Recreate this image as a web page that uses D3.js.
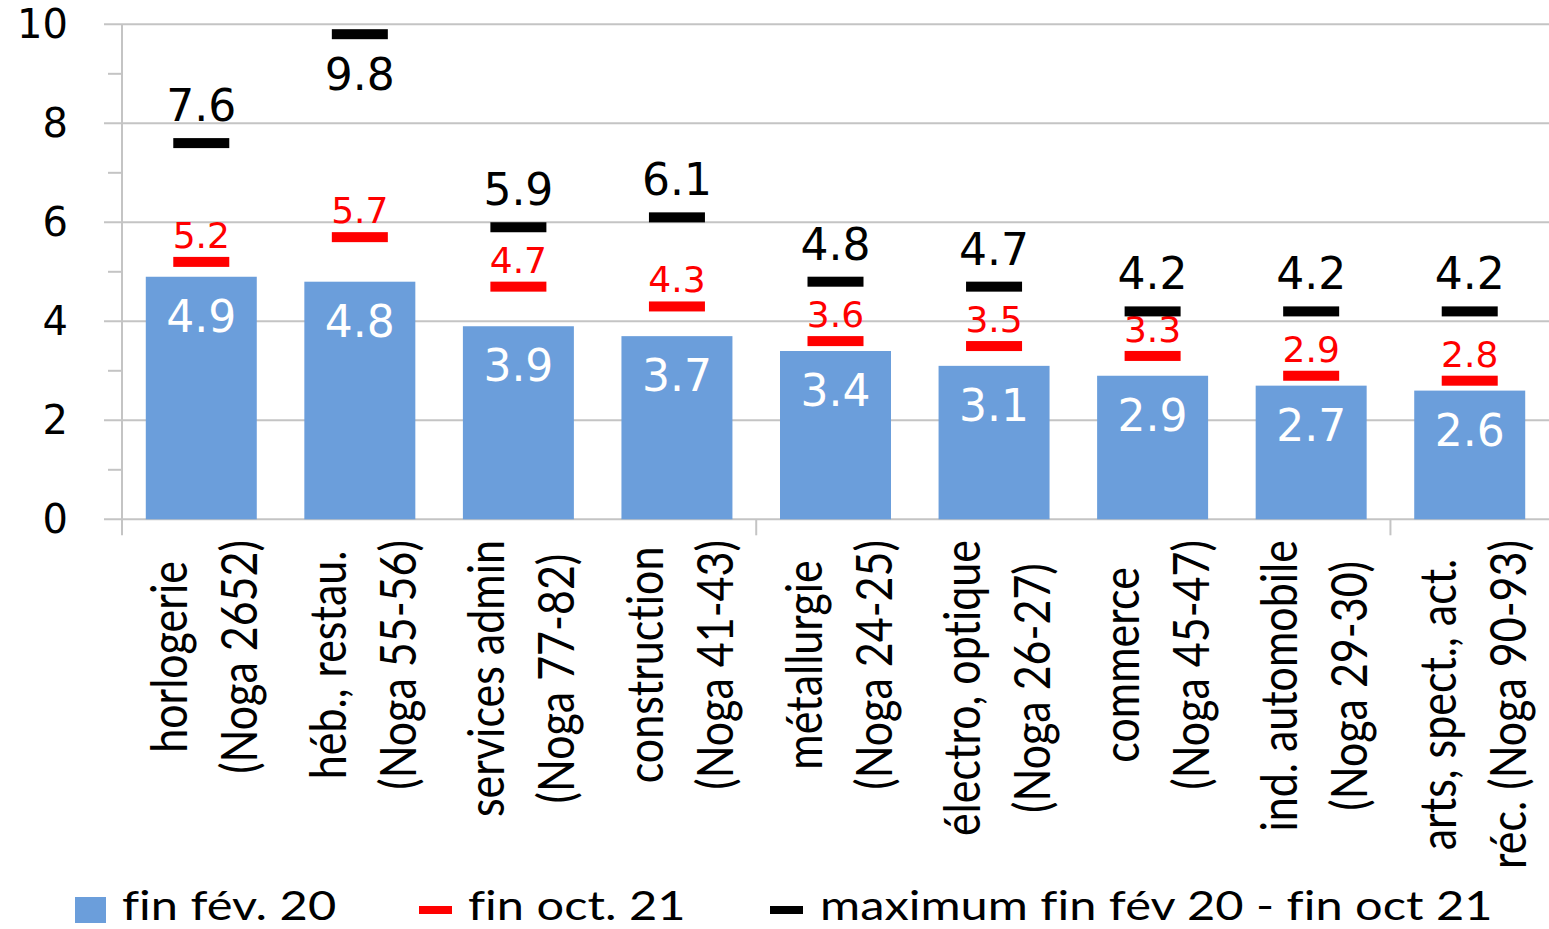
<!DOCTYPE html>
<html>
<head>
<meta charset="utf-8">
<script src="https://cdn.jsdelivr.net/npm/d3@7"></script>
<style>
  body { margin: 0; background: #fff; }
  svg { display: block; }
  text { font-variant-ligatures: none; }
</style>
</head>
<body>
<svg id="chart" width="1549" height="929"></svg>
<script>
// categories (2 lines each, rotated under the axis)
const categories = [
    ["horlogerie", "(Noga 2652)"],
    ["héb., restau.", "(Noga 55-56)"],
    ["services admin", "(Noga 77-82)"],
    ["construction", "(Noga 41-43)"],
    ["métallurgie", "(Noga 24-25)"],
    ["électro, optique", "(Noga 26-27)"],
    ["commerce", "(Noga 45-47)"],
    ["ind. automobile", "(Noga 29-30)"],
    ["arts, spect., act.", "réc. (Noga 90-93)"]
]
const finFev20 = [4.9, 4.8, 3.9, 3.7, 3.4, 3.1, 2.9, 2.7, 2.6]
const finOct21 = [5.2, 5.7, 4.7, 4.3, 3.6, 3.5, 3.3, 2.9, 2.8]
const maxPeriod = [7.6, 9.8, 5.9, 6.1, 4.8, 4.7, 4.2, 4.2, 4.2]
const yTicks = [0, 2, 4, 6, 8, 10]
const yMinor = [1, 3, 5, 7, 9]
const legendLabels = ["fin fév. 20", "fin oct. 21", "maximum fin fév 20 - fin oct 21"]

const numFont = "'DejaVu Sans', Verdana, sans-serif"
const txtFont = "Lato, 'Open Sans', sans-serif"
const blue = "#6b9edb", grid = "#c4c4c4"

const svg = d3.select("#chart")
const left = 122, right = 1549

const data = categories.map((c, i) => ({
    idx: i, lines: c, feb: finFev20[i], oct: finOct21[i], max: maxPeriod[i]
}))

const x = d3.scaleBand()
    .domain(d3.range(categories.length))
    .range([left, right])
    .paddingInner(0.3)
    .paddingOuter(0.15)
const step = x.step()
const cx = i => x(i) + x.bandwidth() / 2

const y = d3.scaleLinear().domain([0, 10]).range([519.3, 24.3])

// gridlines + major ticks
svg.append("g").selectAll("line")
    .data(yTicks)
    .enter().append("line")
        .attr("x1", 104).attr("x2", right)
        .attr("y1", d => y(d)).attr("y2", d => y(d))
        .style("stroke", grid).style("stroke-width", 2)

// minor ticks
svg.append("g").selectAll("line")
    .data(yMinor)
    .enter().append("line")
        .attr("x1", 108).attr("x2", left)
        .attr("y1", d => y(d)).attr("y2", d => y(d))
        .style("stroke", grid).style("stroke-width", 2)

// vertical axis line
svg.append("line")
    .attr("x1", left).attr("x2", left)
    .attr("y1", y(10)).attr("y2", y(0) + 16)
    .style("stroke", grid).style("stroke-width", 2)

// category tick marks (every 4th boundary)
svg.append("g").selectAll("line")
    .data([4, 8])
    .enter().append("line")
        .attr("x1", d => left + d * step).attr("x2", d => left + d * step)
        .attr("y1", y(0)).attr("y2", y(0) + 16)
        .style("stroke", grid).style("stroke-width", 2)

// y tick labels
svg.append("g").selectAll("text")
    .data(yTicks)
    .enter().append("text")
        .attr("x", 68)
        .attr("y", d => y(d) + 14)
        .attr("text-anchor", "end")
        .style("font-family", numFont)
        .style("font-size", "40px")
        .style("fill", "#000")
        .text(d => d)

// bars
svg.append("g").selectAll("rect")
    .data(data)
    .enter().append("rect")
        .attr("x", d => x(d.idx))
        .attr("y", d => y(d.feb))
        .attr("width", x.bandwidth())
        .attr("height", d => y(0) - y(d.feb))
        .style("fill", blue)

// bar labels
svg.append("g").selectAll("text")
    .data(data)
    .enter().append("text")
        .attr("x", d => cx(d.idx))
        .attr("y", d => y(d.feb) + 55)
        .attr("text-anchor", "middle")
        .style("font-family", numFont)
        .style("font-size", "44px")
        .style("fill", "#fff")
        .text(d => d.feb.toFixed(1))

const markW = 56, markH = 10

// red markers + labels
svg.append("g").selectAll("text")
    .data(data)
    .enter().append("text")
        .attr("x", d => cx(d.idx))
        .attr("y", d => y(d.oct) - 14)
        .attr("text-anchor", "middle")
        .style("font-family", numFont)
        .style("font-size", "36px")
        .style("fill", "#ff0000")
        .text(d => d.oct.toFixed(1))

svg.append("g").selectAll("rect")
    .data(data)
    .enter().append("rect")
        .attr("x", d => cx(d.idx) - markW / 2)
        .attr("y", d => y(d.oct) - markH / 2)
        .attr("width", markW).attr("height", markH)
        .style("fill", "#ff0000")

// black markers + labels
svg.append("g").selectAll("rect")
    .data(data)
    .enter().append("rect")
        .attr("x", d => cx(d.idx) - markW / 2)
        .attr("y", d => y(d.max) - markH / 2)
        .attr("width", markW).attr("height", markH)
        .style("fill", "#000")

svg.append("g").selectAll("text")
    .data(data)
    .enter().append("text")
        .attr("x", d => cx(d.idx))
        .attr("y", d => d.max > 9 ? y(d.max) + 56 : y(d.max) - 22)
        .attr("text-anchor", "middle")
        .style("font-family", numFont)
        .style("font-size", "44px")
        .style("fill", "#000")
        .text(d => d.max.toFixed(1))

// category labels, rotated, lines centred on each other
const catG = svg.append("g")
const lineOffsets = [-14, 56]
data.forEach(d => {
    const texts = d.lines.map((ln, k) => catG.append("text")
        .attr("text-anchor", "middle")
        .style("font-family", txtFont)
        .style("font-size", "43px")
        .style("fill", "#000")
        .text(ln))
    const maxLen = d3.max(texts, t => t.node().getComputedTextLength())
    const yc = 540 + maxLen / 2
    texts.forEach((t, k) => {
        t.attr("transform", `translate(${cx(d.idx) + lineOffsets[k]},${yc}) rotate(-90) scale(1,1.18)`)
    })
})

// legend
const leg = svg.append("g")
leg.append("rect")
    .attr("x", 75).attr("y", 897).attr("width", 31).attr("height", 26)
    .style("fill", blue)
leg.append("rect")
    .attr("x", 419).attr("y", 906).attr("width", 33).attr("height", 8)
    .style("fill", "#ff0000")
leg.append("rect")
    .attr("x", 770).attr("y", 906).attr("width", 33).attr("height", 8)
    .style("fill", "#000")

const legX = [122, 468, 820]
leg.selectAll("text")
    .data(legendLabels)
    .enter().append("text")
        .attr("transform", (d, i) => `translate(${legX[i]},920) scale(1.22,1)`)
        .style("font-family", txtFont)
        .style("font-size", "40px")
        .style("fill", "#000")
        .text(d => d)
</script>
</body>
</html>
